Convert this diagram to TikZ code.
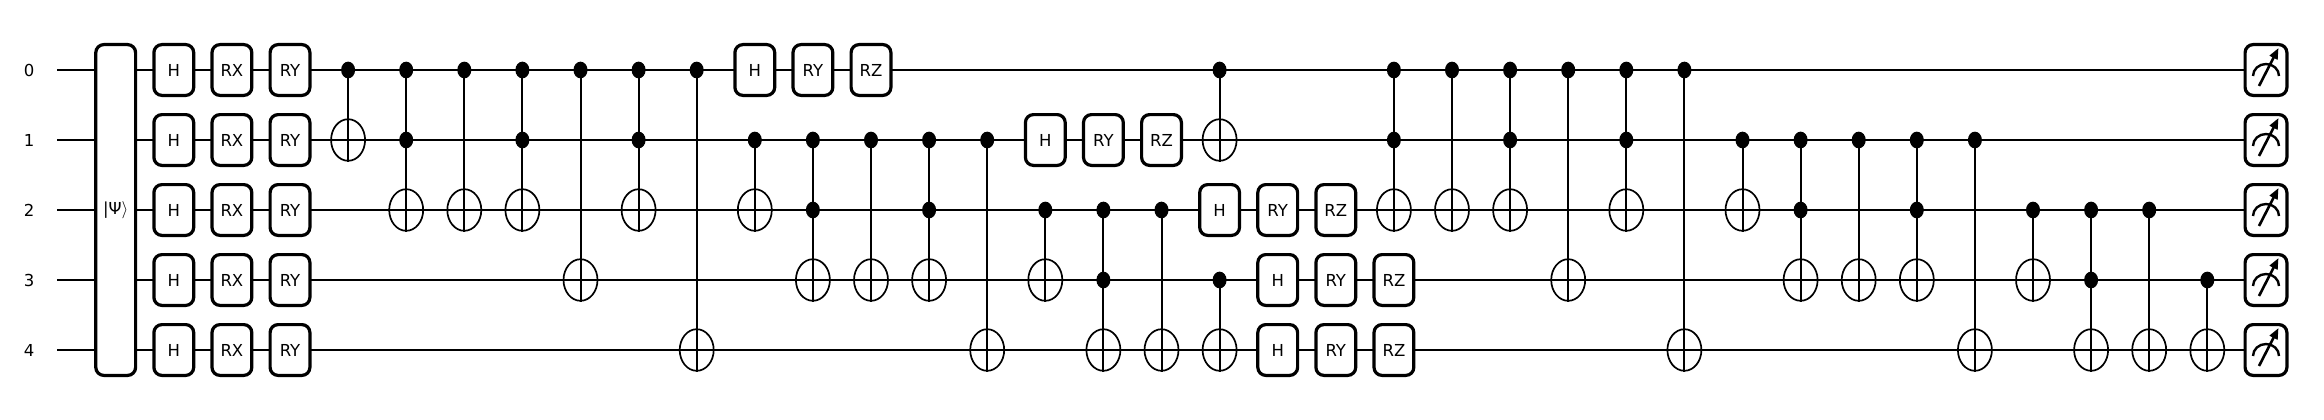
\documentclass[tikz,border=0pt]{standalone}
\usepackage{fontspec}
\setmainfont{DejaVu Sans}
\usetikzlibrary{shapes.geometric,backgrounds,arrows.meta}
\newcommand{\qx}[1]{115.7+58.1*#1}
\newcommand{\qgate}[3]{\node[gatebox] (n#1-#2) at ({\qx{#2}},{70+70*#1}) {#3};}
\newcommand{\qctrl}[2]{\node[ctrldot] (n#1-#2) at ({\qx{#2}},{70+70*#1}) {};}
\newcommand{\qtarg}[2]{\node[targ] (n#1-#2) at ({\qx{#2}},{70+70*#1}) {};}
\newcommand{\cx}[3]{\qctrl{#2}{#1}\qtarg{#3}{#1}%
  \begin{pgfonlayer}{background}\draw[vline] (n#2-#1.center) -- (n#3-#1.south);\end{pgfonlayer}}
\newcommand{\ccx}[4]{\qctrl{#2}{#1}\qctrl{#3}{#1}\qtarg{#4}{#1}%
  \begin{pgfonlayer}{background}\draw[vline] (n#2-#1.center) -- (n#4-#1.south);\end{pgfonlayer}}
\newcommand{\qmeas}[1]{\node[gatebox, minimum width=41.8pt] (m#1) at (2266,{70+70*#1}) {};
  \begin{scope}[shift={(m#1.center)}, x=1pt, y=1pt]
    \draw[line width=2.4pt] (-13,-6) arc[start angle=180, end angle=0, x radius=13, y radius=12];
    \draw[line width=2.6pt, -{Triangle[length=11pt,width=8.5pt]}] (-7,-16) -- (12.5,22);
  \end{scope}}
\begin{document}
\begin{tikzpicture}[x=1pt,y=-1pt,
  gatebox/.style={draw, line width=3.2pt, rounded corners=8pt, fill=white,
    minimum width=39.8pt, minimum height=50.8pt, inner sep=0pt,
    font=\fontsize{16.5}{18}\selectfont},
  ctrldot/.style={ellipse, fill=black, minimum width=14pt, minimum height=16.7pt, inner sep=0pt},
  targ/.style={ellipse, draw, line width=1.7pt, minimum width=34pt, minimum height=41.6pt, inner sep=0pt},
  vline/.style={line width=2pt},
  wire/.style={line width=2pt},
  lab/.style={font=\fontsize{16.5}{18}\selectfont, inner sep=0pt}]
\useasboundingbox (0,0) rectangle (2324,420);
\begin{pgfonlayer}{background}
\fill[white] (0,0) rectangle (2324,420);
\end{pgfonlayer}
% labels and wire starts
\foreach \q in {0,...,4} {
  \node[lab] (l\q) at (29,{70+70*\q}) {\q};
  \coordinate (w\q) at (57,{70+70*\q});
}
% state preparation
\node[gatebox, minimum height=330.8pt] (psi) at (115.7,210) {|Ψ$\rangle$};
% first rotation layer
\foreach \q in {0,...,4} {
  \qgate{\q}{1}{H}
  \qgate{\q}{2}{RX}
  \qgate{\q}{3}{RY}
}
% later single-qubit gates
\qgate{0}{11}{H}\qgate{0}{12}{RY}\qgate{0}{13}{RZ}
\qgate{1}{16}{H}\qgate{1}{17}{RY}\qgate{1}{18}{RZ}
\qgate{2}{19}{H}\qgate{2}{20}{RY}\qgate{2}{21}{RZ}
\qgate{3}{20}{H}\qgate{3}{21}{RY}\qgate{3}{22}{RZ}
\qgate{4}{20}{H}\qgate{4}{21}{RY}\qgate{4}{22}{RZ}
% entangling gates
\cx{4}{0}{1}
\ccx{5}{0}{1}{2}
\cx{6}{0}{2}
\ccx{7}{0}{1}{2}
\cx{8}{0}{3}
\ccx{9}{0}{1}{2}
\cx{10}{0}{4}
\cx{11}{1}{2}
\ccx{12}{1}{2}{3}
\cx{13}{1}{3}
\ccx{14}{1}{2}{3}
\cx{15}{1}{4}
\cx{16}{2}{3}
\ccx{17}{2}{3}{4}
\cx{18}{2}{4}
\cx{19}{0}{1}
\cx{19}{3}{4}
\ccx{22}{0}{1}{2}
\cx{23}{0}{2}
\ccx{24}{0}{1}{2}
\cx{25}{0}{3}
\ccx{26}{0}{1}{2}
\cx{27}{0}{4}
\cx{28}{1}{2}
\ccx{29}{1}{2}{3}
\cx{30}{1}{3}
\ccx{31}{1}{2}{3}
\cx{32}{1}{4}
\cx{33}{2}{3}
\ccx{34}{2}{3}{4}
\cx{35}{2}{4}
\cx{36}{3}{4}
% measurements
\qmeas{0}\qmeas{1}\qmeas{2}\qmeas{3}\qmeas{4}
% wires
\begin{pgfonlayer}{background}
\foreach \q in {0,...,4} {
  \draw[wire] (w\q) -- (m\q.west);
}
\end{pgfonlayer}
\end{tikzpicture}
\end{document}
